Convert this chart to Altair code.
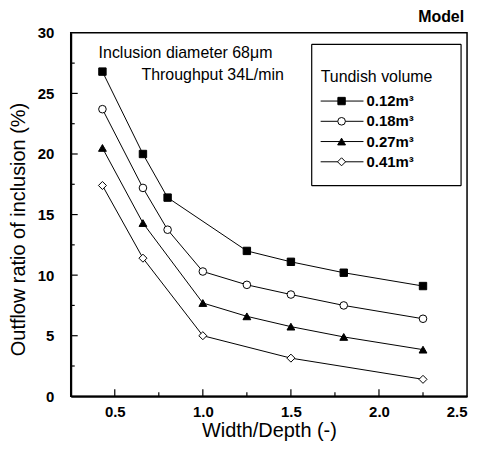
import altair as alt
import pandas as pd

# ---- data ----
series_names = ["0.12", "0.18", "0.27", "0.41"]
legend_labels = ["0.12m³", "0.18m³", "0.27m³", "0.41m³"]
shapes = ["square", "circle", "triangle-up", "diamond"]
fills = ["black", "white", "black", "white"]
marker_sizes = [55, 65, 80, 70]

x_012 = [0.43, 0.66, 0.80, 1.25, 1.50, 1.80, 2.25]
y_012 = [26.8, 20.0, 16.4, 12.0, 11.1, 10.2, 9.1]
x_018 = [0.43, 0.66, 0.80, 1.00, 1.25, 1.50, 1.80, 2.25]
y_018 = [23.7, 17.2, 13.75, 10.3, 9.2, 8.4, 7.5, 6.4]
x_027 = [0.43, 0.66, 1.00, 1.25, 1.50, 1.80, 2.25]
y_027 = [20.5, 14.3, 7.7, 6.6, 5.75, 4.9, 3.85]
x_041 = [0.43, 0.66, 1.00, 1.50, 2.25]
y_041 = [17.4, 11.4, 5.0, 3.15, 1.4]

x_major = [0.5, 1.0, 1.5, 2.0]
x_minor = [0.75, 1.25, 1.75, 2.25]
x_labels = [0.5, 1.0, 1.5, 2.0, 2.5]
y_major = [5, 10, 15, 20, 25]
y_minor = [2.5, 7.5, 12.5, 17.5, 22.5, 27.5]
y_labels = [0, 5, 10, 15, 20, 25, 30]

x_title = "Width/Depth (-)"
y_title = "Outflow ratio of inclusion (%)"
note1 = "Inclusion diameter 68μm"
note2 = "Throughput 34L/min"
legend_title = "Tundish volume"
corner_text = "Model"

rows = []
for name, xs, ys in zip(series_names, [x_012, x_018, x_027, x_041], [y_012, y_018, y_027, y_041]):
    for xv, yv in zip(xs, ys):
        rows.append({"series": name, "x": xv, "y": yv})
df = pd.DataFrame(rows)
leg_df = pd.DataFrame({"series": series_names, "label": legend_labels})

W, H = 398, 365
FONT = "Liberation Sans"

xdom = alt.Scale(domain=[0.25, 2.5], nice=False, zero=False)
ydom = alt.Scale(domain=[0, 30], nice=False)
shape_sc = alt.Scale(domain=series_names, range=shapes)
fill_sc = alt.Scale(domain=series_names, range=fills)
size_sc = alt.Scale(domain=series_names, range=marker_sizes)

lines = alt.Chart(df).mark_line(color="black", strokeWidth=1).encode(
    x=alt.X("x:Q", scale=xdom,
            axis=alt.Axis(orient="bottom", values=x_labels, format=".1f", ticks=False, tickSize=0,
                          domain=True, domainWidth=2, domainColor="black", grid=False,
                          labelPadding=8, labelFontSize=15,
                          labelFontWeight="bold", title=x_title, titleFontSize=20,
                          titleFontWeight="normal", titleY=34, titleBaseline="middle")),
    y=alt.Y("y:Q", scale=ydom,
            axis=alt.Axis(orient="left", values=y_labels, ticks=False, tickSize=0,
                          domain=True, domainWidth=2, domainColor="black",
                          grid=False, labelPadding=17, labelFontSize=15, labelFontWeight="bold",
                          title=y_title, titleFontSize=20, titleFontWeight="normal",
                          titleX=-52, titleY=197, titleBaseline="middle", titleAlign="center")),
    detail="series:N",
)

points = alt.Chart(df).mark_point(filled=True, stroke="black", strokeWidth=1, opacity=1).encode(
    x=alt.X("x:Q", scale=xdom),
    y=alt.Y("y:Q", scale=ydom),
    shape=alt.Shape("series:N", scale=shape_sc, legend=None),
    fill=alt.Fill("series:N", scale=fill_sc, legend=None),
    size=alt.Size("series:N", scale=size_sc, legend=None),
)

# inward ticks
def yticks(vals, length):
    return alt.Chart(pd.DataFrame({"y": vals})).mark_rule(color="black", strokeWidth=1.2).encode(
        y=alt.Y("y:Q", scale=ydom), x=alt.value(0), x2=alt.value(length))

def xticks(vals, length):
    return alt.Chart(pd.DataFrame({"x": vals})).mark_rule(color="black", strokeWidth=1.2).encode(
        x=alt.X("x:Q", scale=xdom), y=alt.value(H), y2=alt.value(H - length))

one = pd.DataFrame({"t1": [note1], "t2": [note2], "lt": [legend_title], "c": [corner_text]})

note_a = alt.Chart(one).mark_text(align="left", baseline="middle", fontSize=16, font=FONT, color="black").encode(
    x=alt.value(28), y=alt.value(20), text="t1:N")
note_b = alt.Chart(one).mark_text(align="left", baseline="middle", fontSize=16, font=FONT, color="black").encode(
    x=alt.value(71), y=alt.value(42), text="t2:N")
corner = alt.Chart(one).mark_text(align="center", baseline="middle", fontSize=16, fontWeight="bold",
                                  font=FONT, color="black").encode(
    x=alt.value(372), y=alt.value(-16), text="c:N")

def hline(x1, x2, y, w):
    return alt.Chart(one).mark_rule(color="black", strokeWidth=w).encode(
        x=alt.value(x1), x2=alt.value(x2), y=alt.value(y))

def vline(x, y1, y2, w):
    return alt.Chart(one).mark_rule(color="black", strokeWidth=w).encode(
        x=alt.value(x), y=alt.value(y1), y2=alt.value(y2))

data_group = alt.layer(
    lines, points,
    yticks(y_major, 7), yticks(y_minor, 4), xticks(x_major, 7), xticks(x_minor, 4),
    note_a, note_b, corner,
)

BX1, BX2, BY1, BY2 = 242, 392, 11.5, 153.5
box_parts = [hline(BX1, BX2, BY1, 1.2), hline(BX1, BX2, BY2, 1.2),
             vline(BX1, BY1, BY2, 1.2), vline(BX2, BY1, BY2, 1.2)]

leg_title = alt.Chart(one).mark_text(align="left", baseline="middle", fontSize=16, font=FONT, color="black").encode(
    x=alt.value(251), y=alt.value(44), text="lt:N")

leg_y = alt.Y("series:N", scale=alt.Scale(type="point", domain=series_names, range=[68.5, 129.5], padding=0),
              axis=None)
leg_rule = alt.Chart(leg_df).mark_rule(color="black", strokeWidth=1).encode(
    x=alt.value(251), x2=alt.value(294), y=leg_y)
leg_pt = alt.Chart(leg_df).mark_point(filled=True, stroke="black", strokeWidth=1, opacity=1).encode(
    x=alt.value(272), y=leg_y,
    shape=alt.Shape("series:N", scale=shape_sc, legend=None),
    fill=alt.Fill("series:N", scale=fill_sc, legend=None),
    size=alt.Size("series:N", scale=size_sc, legend=None))
leg_txt = alt.Chart(leg_df).mark_text(align="left", baseline="middle", fontSize=15, fontWeight="bold",
                                      font=FONT, color="black").encode(
    x=alt.value(297), y=leg_y, text="label:N")

legend_group = alt.layer(*box_parts, leg_title, leg_rule, leg_pt, leg_txt)

chart = alt.layer(data_group, legend_group).resolve_scale(y="independent").properties(
    width=W, height=H,
    autosize=alt.AutoSizeParams(type="none"),
    padding={"left": 63, "top": 24, "right": 10, "bottom": 56},
).configure_view(
    stroke="black", strokeWidth=1.5
).configure_axis(
    labelFont=FONT, titleFont=FONT, labelColor="black", titleColor="black"
).configure_text(font=FONT)

chart.save("out.html", embed_options={"renderer": "svg", "actions": False})
